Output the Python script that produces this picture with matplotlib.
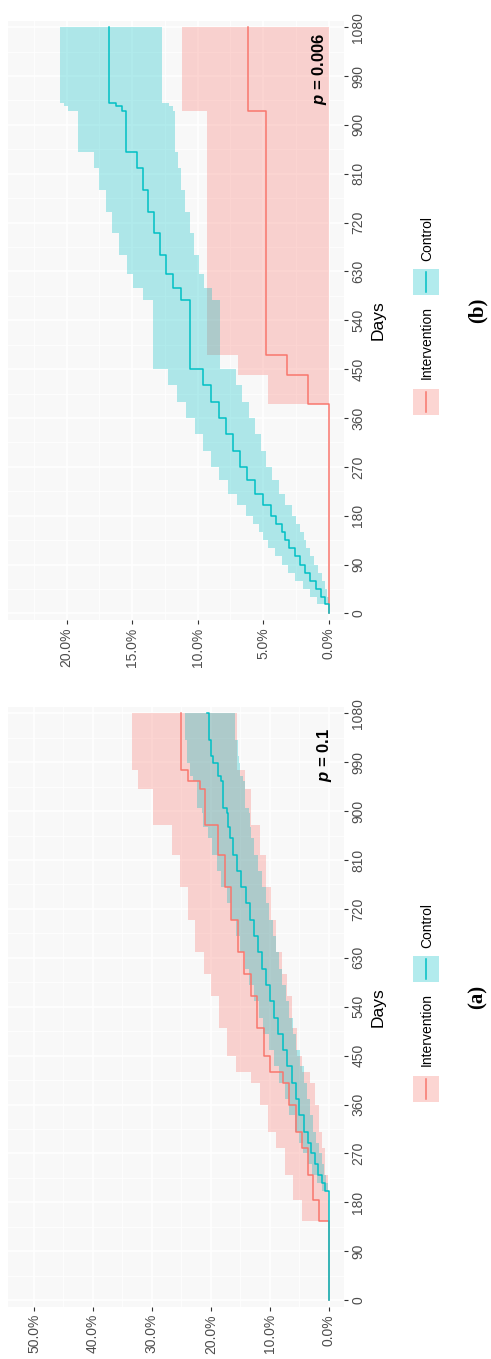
import matplotlib
matplotlib.use("Agg")
import matplotlib.pyplot as plt
from matplotlib.patches import Rectangle
from matplotlib.lines import Line2D

# ---------------- data (percent cumulative events vs days) ----------------
group_names = ["Intervention", "Control"]
day_ticks = [0, 90, 180, 270, 360, 450, 540, 630, 720, 810, 900, 990, 1080]
pct_ticks_a = [0, 10, 20, 30, 40, 50]
pct_ticks_b = [0, 5, 10, 15, 20]
pval_a = "0.1"
pval_b = "0.006"

# Panel (a) - Control
a_ctl_days = [0, 200, 215, 230, 250, 270, 290, 310, 340, 370, 400, 430, 460, 490, 520, 550,
              580, 610, 640, 670, 700, 730, 760, 790, 820, 850, 870, 897, 906, 956, 965, 989,
              1002, 1030, 1080]
a_ctl_pct = [0, 0.6, 1.2, 1.8, 2.4, 3.0, 3.6, 4.2, 5.0, 5.6, 6.3, 7.0, 7.8, 8.6, 9.3, 10.0,
             10.7, 11.3, 12.0, 12.6, 13.3, 14.0, 14.8, 15.5, 16.2, 16.8, 17.1, 17.3, 18.0, 18.2,
             18.8, 19.7, 19.9, 20.3, 20.7]
a_ctl_lo = [0, 0.1, 0.4, 0.8, 1.2, 1.7, 2.1, 2.6, 3.2, 3.7, 4.2, 4.8, 5.5, 6.1, 6.7, 7.3,
            7.9, 8.4, 9.0, 9.5, 10.1, 10.7, 11.4, 12.0, 12.6, 13.1, 13.4, 13.6, 14.2, 14.6,
            15.0, 15.3, 15.4, 15.9, 16.3]
a_ctl_hi = [0, 1.2, 2.0, 2.8, 3.6, 4.3, 5.1, 5.8, 6.8, 7.5, 8.4, 9.2, 10.1, 11.1, 11.9, 12.7,
            13.5, 14.2, 15.0, 15.7, 16.5, 17.3, 18.2, 19.0, 19.8, 20.5, 21.3, 21.5, 22.3, 23.0,
            23.5, 24.0, 24.1, 24.4, 24.7]

# Panel (a) - Intervention
a_int_days = [0, 145, 185, 230, 280, 310, 360, 400, 420, 450, 500, 560, 600, 640, 700, 760,
              820, 874, 940, 956, 975, 1080]
a_int_pct = [0, 1.6, 2.6, 3.6, 4.6, 5.6, 6.7, 7.8, 9.9, 11.0, 12.1, 13.2, 14.3, 15.4, 16.5,
             17.6, 18.7, 21.0, 21.9, 23.9, 25.0, 25.0]
a_int_lo = [0, 0, 0.2, 0.6, 1.1, 1.7, 2.4, 3.1, 4.6, 5.4, 6.3, 7.1, 8.0, 8.9, 9.8, 10.7,
            11.6, 13.1, 14.2, 14.2, 15.6, 15.6]
a_int_hi = [0, 4.5, 6.0, 7.5, 8.9, 10.3, 11.6, 13.2, 15.8, 17.2, 18.6, 19.9, 21.2, 22.6, 23.9,
            25.2, 26.5, 29.8, 32.3, 32.3, 33.4, 33.4]

# Panel (b) - Control
b_ctl_days = [0, 18, 30, 45, 60, 75, 90, 105, 120, 135, 150, 165, 180, 200, 220, 245, 270,
              300, 330, 360, 390, 420, 450, 577, 600, 625, 660, 700, 740, 780, 820, 850, 925,
              935, 941, 1080]
b_ctl_pct = [0, 0.3, 0.6, 1.0, 1.4, 1.8, 2.2, 2.6, 3.0, 3.3, 3.6, 4.0, 4.4, 5.0, 5.6, 6.2,
             6.8, 7.3, 7.8, 8.4, 9.0, 9.6, 10.6, 11.3, 11.9, 12.4, 12.9, 13.3, 13.8, 14.2, 14.6,
             15.5, 15.8, 16.2, 16.8, 16.8]
b_ctl_lo = [0, 0.0, 0.1, 0.3, 0.5, 0.8, 1.1, 1.4, 1.7, 1.9, 2.2, 2.5, 2.8, 3.3, 3.8, 4.3,
            4.8, 5.2, 5.6, 6.1, 6.6, 7.1, 8.3, 8.9, 9.5, 9.9, 10.3, 10.6, 11.0, 11.3, 11.5,
            11.7, 11.9, 12.2, 12.7, 12.7]
b_ctl_hi = [0, 0.9, 1.4, 2.0, 2.6, 3.1, 3.6, 4.1, 4.6, 5.0, 5.3, 5.8, 6.3, 7.0, 7.7, 8.4,
            9.0, 9.6, 10.2, 10.9, 11.6, 12.3, 13.4, 14.2, 14.9, 15.4, 16.0, 16.5, 17.0, 17.5,
            17.9, 19.1, 19.9, 20.2, 20.5, 20.5]

# Panel (b) - Intervention
b_int_days = [0, 385, 440, 476, 925, 1080]
b_int_pct = [0, 1.6, 3.2, 4.8, 6.15, 6.15]
b_int_lo = [0, 0, 0, 0, 0, 0]
b_int_hi = [0, 4.6, 6.9, 9.3, 11.2, 11.2]

# ---------------- styling ----------------
C_INT = "#F8766D"
C_CTL = "#00BFC4"
PANEL_BG = "#F8F8F8"
W, H = 491, 1359
DPI = 100

plt.rcParams["font.family"] = ["Liberation Sans", "DejaVu Sans"]
plt.rcParams["mathtext.fontset"] = "custom"
plt.rcParams["mathtext.it"] = "Liberation Sans:italic:bold"
plt.rcParams["mathtext.rm"] = "Liberation Sans:bold"

fig = plt.figure(figsize=(W / DPI, H / DPI), dpi=DPI)


def px_box(x0, x1, ytop, ybot):
    return [x0 / W, 1 - ybot / H, (x1 - x0) / W, (ybot - ytop) / H]


def draw_panel(ax, groups, pct_ticks, xlim, pval, p_y):
    ax.set_facecolor(PANEL_BG)
    for s in ax.spines.values():
        s.set_visible(False)
    step = pct_ticks[1] - pct_ticks[0]
    minor_p = [p + step / 2 for p in pct_ticks]
    minor_d = [d + 45 for d in day_ticks]
    for p in minor_p:
        ax.axvline(p, color="white", lw=0.6, zorder=0.5)
    for d in minor_d:
        ax.axhline(d, color="white", lw=0.6, zorder=0.5)
    for p in pct_ticks:
        ax.axvline(p, color="white", lw=1.1, zorder=0.6)
    for d in day_ticks:
        ax.axhline(d, color="white", lw=1.1, zorder=0.6)

    for days, pct, lo, hi, col in groups:
        ax.fill_betweenx(days, lo, hi, step="post", color=col, alpha=0.3, lw=0, zorder=1)
    for days, pct, lo, hi, col in groups:
        ax.plot(pct, days, drawstyle="steps-pre", color=col, lw=1.1, zorder=2)

    ax.set_xlim(*xlim)
    ax.set_ylim(-12, 1092)
    ax.set_xticks(pct_ticks)
    ax.set_xticklabels([f"{p:.1f}%" for p in pct_ticks], rotation=90, ha="center", va="top")
    ax.set_yticks(day_ticks)
    ax.set_yticklabels([str(d) for d in day_ticks], rotation=90, ha="left", va="center")
    ax.yaxis.tick_right()
    ax.yaxis.set_label_position("right")
    ax.tick_params(axis="both", length=2.8, width=0.8, color="#333333",
                   labelcolor="#4D4D4D", labelsize=10, pad=2.5)
    ax.set_ylabel("Days", rotation=90, fontsize=12.5, labelpad=4, color="black")
    ax.text(0.68, p_y, r"$p$ = " + pval, rotation=90, ha="center", va="center",
            fontsize=12, fontweight="bold", zorder=5)


ax_a = fig.add_axes(px_box(8, 344, 706.7, 1306.7))
ax_b = fig.add_axes(px_box(8, 344, 20.7, 620))

draw_panel(ax_a,
           [(a_int_days, a_int_pct, a_int_lo, a_int_hi, C_INT),
            (a_ctl_days, a_ctl_pct, a_ctl_lo, a_ctl_hi, C_CTL)],
           pct_ticks_a, (54.4, -2.59), pval_a, 1003)
draw_panel(ax_b,
           [(b_int_days, b_int_pct, b_int_lo, b_int_hi, C_INT),
            (b_ctl_days, b_ctl_pct, b_ctl_lo, b_ctl_hi, C_CTL)],
           pct_ticks_b, (24.47, -1.165), pval_b, 1003)

# overlay in pixel coordinates for legends and panel tags
ov = fig.add_axes([0, 0, 1, 1])
ov.set_xlim(0, W)
ov.set_ylim(H, 0)
ov.axis("off")
ov.patch.set_alpha(0)


def legend(y_off, tag):
    entries = [(group_names[0], C_INT, 1089 + y_off, 1066 + y_off),
               (group_names[1], C_CTL, 969 + y_off, 948 + y_off)]
    for name, col, ykey, ytxt in entries:
        ov.add_patch(Rectangle((413, ykey - 13), 26, 26, facecolor=col, alpha=0.3,
                               edgecolor="none"))
        ov.add_line(Line2D([426, 426], [ykey - 10, ykey + 10], color=col, lw=1.1))
        ov.text(427, ytxt, name, rotation=90, ha="center", va="bottom", fontsize=10,
                color="black")
    ov.text(478, 997 + y_off, tag, rotation=90, ha="center", va="center", fontsize=15,
            fontweight="bold", family=["Liberation Serif", "DejaVu Serif"])


legend(0, "(a)")
legend(-686.7, "(b)")

fig.savefig("out.png", dpi=DPI)
